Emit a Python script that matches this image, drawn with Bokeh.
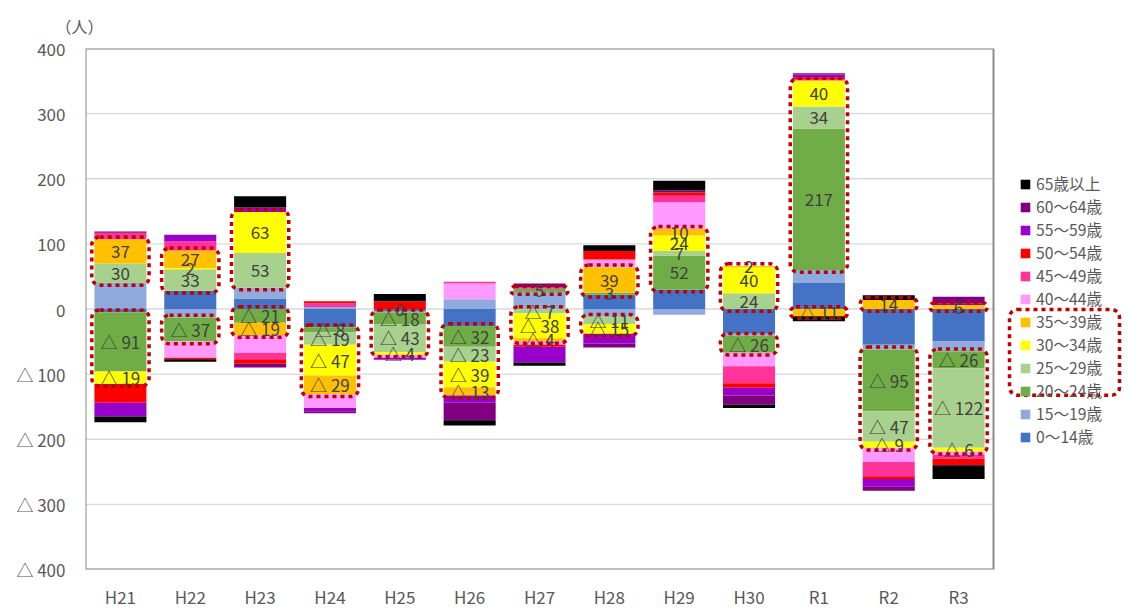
import numpy as np
from bokeh.plotting import figure
from bokeh.models import (ColumnDataSource, Range1d, FixedTicker, Legend, LegendItem,
                          BoxAnnotation, LabelSet)
from bokeh.core.properties import value
from bokeh.embed import file_html
from bokeh.resources import INLINE

years = ["H21", "H22", "H23", "H24", "H25", "H26", "H27", "H28", "H29", "H30", "R1", "R2", "R3"]
groups = ["0～14歳", "15～19歳", "20～24歳", "25～29歳", "30～34歳", "35～39歳",
          "40～44歳", "45～49歳", "50～54歳", "55～59歳", "60～64歳", "65歳以上"]

v0_14 = [-5, 28, 16, -28, -3, -26, 0, 22, 30, -38, 40, -55, -50]
v15_19 = [40, -13, 17, 3, -2, 15, 26, -12, -9, -3, 20, -7, -15]
v20_24 = [-91, -37, -21, -8, -18, -32, 5, 3, 52, -26, 217, -95, -26]
v25_29 = [30, 33, 53, -19, -43, -23, -7, -11, 7, 24, 34, -47, -122]
v30_34 = [-19, 2, 63, -47, -4, -39, -38, -15, 24, 40, 40, -9, -6]
v35_39 = [37, 27, -19, -29, 0, -13, -4, 39, 10, 2, -11, 14, 6]
v40_44 = [0, -25, -27, -21, -5, 24, -6, 12, 41, -21, 0, -22, -5]
v45_49 = [10, 14, -10, 6, 0, 3, 2, 0, 10, -26, 2, -22, -6]
v50_54 = [-29, -2, -7, 3, 12, 0, -3, 13, 5, -7, 2, -4, -10]
v55_59 = [-21, 10, 7, -5, -3, -11, -24, -15, 0, -12, 5, -12, 3]
v60_64 = [2, 0, -6, -3, 0, -27, 6, -6, 3, -14, 2, -6, 10]
v65 = [-9, -4, 17, 0, 11, -8, -5, 9, 15, -5, -8, 7, -21]

series = [v0_14, v15_19, v20_24, v25_29, v30_34, v35_39,
          v40_44, v45_49, v50_54, v55_59, v60_64, v65]
colors = ["#4472C4", "#8FAADC", "#70AD47", "#A9D18E", "#FFFF00", "#FFC000",
          "#FF99FF", "#FF3399", "#FF0000", "#9900CC", "#800080", "#000000"]
y_ticks = [-400, -300, -200, -100, 0, 100, 200, 300, 400]

FONT = "Noto Sans CJK JP"
n = len(years)
xs = np.arange(n, dtype=float)

# layout constants (pixels)
W, H = 1129, 611
FL, FT, FB = 85, 48, 577
PLOT_R = 993
step = (PLOT_R - FL) / n
x_end = -0.5 + (W - FL) / step
k = (FB - FT) / 800.0


def px_x(px):
    return -0.5 + (px - FL) / step


def px_y(py):
    return 400 - (py - FT) / k


p = figure(width=W, height=H, output_backend="svg", toolbar_location=None,
           x_range=Range1d(-0.5, x_end), y_range=Range1d(-400, 400),
           min_border_left=FL, min_border_right=0, min_border_top=FT, min_border_bottom=H - FB)
p.background_fill_color = "white"
p.border_fill_color = "white"
p.outline_line_color = None
p.xgrid.grid_line_color = None
p.ygrid.grid_line_color = None

p.segment(x0=[-0.5] * len(y_ticks), x1=[n - 0.5] * len(y_ticks), y0=y_ticks, y1=y_ticks,
          line_color="#D9D9D9", line_width=1.3)
p.quad(left=[-0.5], right=[n - 0.5], bottom=[-400], top=[400], fill_color=None,
       line_color="#8C8C8C", line_width=2)

p.yaxis.ticker = FixedTicker(ticks=y_ticks)
p.yaxis.major_label_overrides = {t: (f"△ {abs(t)}" if t < 0 else str(t)) for t in y_ticks}
p.xaxis.ticker = FixedTicker(ticks=list(range(n)))
p.xaxis.major_label_overrides = {i: y for i, y in enumerate(years)}
for ax in (p.xaxis, p.yaxis):
    ax.axis_line_color = None
    ax.major_tick_line_color = None
    ax.minor_tick_line_color = None
    ax.major_label_text_font = FONT
    ax.major_label_text_color = "#595959"
    ax.major_label_text_font_size = "17px"
p.yaxis.major_label_standoff = 14
p.xaxis.major_label_standoff = 8

p.title.text = "（人）"
p.title.text_font = FONT
p.title.text_font_size = "16px"
p.title.text_color = "#595959"
p.title.text_font_style = "normal"
p.title.align = "left"
p.title.offset = -30
p.title.standoff = 22

pos_base = np.zeros(n)
neg_base = np.zeros(n)
renderers = []
seg_info = []
for i, vals in enumerate(series):
    v = np.array(vals, dtype=float)
    bottom = np.where(v >= 0, pos_base, neg_base + v)
    top = np.where(v >= 0, pos_base + v, neg_base)
    seg_info.append((v, bottom, top))
    pos_base = pos_base + np.clip(v, 0, None)
    neg_base = neg_base + np.clip(v, None, 0)
    src = ColumnDataSource(dict(x=xs, top=top, bottom=bottom))
    r = p.vbar(x="x", top="top", bottom="bottom", width=0.745, source=src,
               fill_color=colors[i], line_color=None)
    renderers.append(r)

BOX = "#C00000"
box_style = dict(fill_color=None, line_color=BOX, line_alpha=1.0, line_width=3.5,
                 line_dash="4 4", border_radius=8)
pad = 3.5
for j in range(n):
    pstart = sum(max(series[kk][j], 0) for kk in range(2))
    pend = pstart + sum(max(series[kk][j], 0) for kk in range(2, 6))
    nstart = sum(min(series[kk][j], 0) for kk in range(2))
    nend = nstart + sum(min(series[kk][j], 0) for kk in range(2, 6))
    for a, b in ((pstart, pend), (nstart, nend)):
        if a != b:
            p.add_layout(BoxAnnotation(left=j - 0.41, right=j + 0.41,
                                       bottom=min(a, b) - pad, top=max(a, b) + pad, **box_style))

lx, ly, lt = [], [], []
for i in range(2, 6):
    v, bottom, top = seg_info[i]
    for j in range(n):
        val = v[j]
        lx.append(xs[j])
        ly.append((bottom[j] + top[j]) / 2.0)
        lt.append(f"△ {int(abs(val))}" if val < 0 else f"{int(val)}")
lab_src = ColumnDataSource(dict(x=lx, y=ly, text=lt))
p.add_layout(LabelSet(x="x", y="y", text="text", source=lab_src, text_align="center",
                      text_baseline="middle", text_font=value(FONT), text_font_size=value("17px"),
                      text_color=value("#404040")))

items = [LegendItem(label=groups[i], renderers=[renderers[i]]) for i in range(len(groups) - 1, -1, -1)]
legend = Legend(items=items, location=(1019 - FL, FB - 456), orientation="vertical",
                label_text_font=FONT, label_text_font_size="15.7px", label_text_color="#595959",
                glyph_width=12, glyph_height=12, label_height=20, spacing=0,
                label_standoff=5, padding=0, margin=0, border_line_color=None,
                background_fill_alpha=0)
p.add_layout(legend, "center")

p.add_layout(BoxAnnotation(left=px_x(1009), right=px_x(1119), top=px_y(313), bottom=px_y(400),
                           **box_style))

open("out.html", "w").write(file_html(p, INLINE))
